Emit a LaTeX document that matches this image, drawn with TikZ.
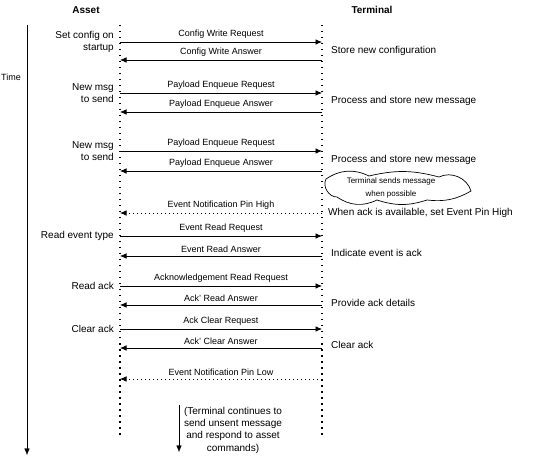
\documentclass[tikz,border=0pt]{standalone}
\usepackage{fontspec}
\setmainfont{Liberation Sans}
\usetikzlibrary{arrows.meta, positioning}
\tikzstyle{head}=[inner sep=0pt, font=\bfseries\fontsize{10}{12}\selectfont]
\tikzstyle{life}=[line width=1.5pt, dash pattern=on 1.5pt off 4.5pt]
\tikzstyle{msg}=[->, line width=0.7pt]
\tikzstyle{sig}=[->, line width=0.7pt, dash pattern=on 1pt off 3pt]
\tikzstyle{lbl}=[above, inner sep=3pt, font=\fontsize{9}{11}\selectfont]
\tikzstyle{note}=[inner sep=0pt, align=right, font=\fontsize{10}{12.5}\selectfont]
\tikzstyle{puff}=[line width=0.7pt]

\begin{document}
\begin{tikzpicture}[x=1pt,y=-1pt,>={Latex[length=6.5pt,width=5.5pt]}]
  \useasboundingbox (0,0) rectangle (533,462);
  % headers
  \node [head] (asset) at (86,10) {Asset};
  \node [head] (term) at (372,10) {Terminal};
  % time axis
  \coordinate (t0) at (27,25);
  \coordinate (t9) at (27,455);
  \draw[->] (t0) -- (t9);
  \node [note, font=\fontsize{9}{11}\selectfont] (time) at (11,77) {Time};
  % lifelines
  \coordinate (atop) at (120,25);
  \coordinate (abot) at (120,438);
  \coordinate (ttop) at (322,25);
  \coordinate (tbot) at (322,438);
  \draw[life] (atop) -- (abot);
  \draw[life] (ttop) -- (tbot);
  % message ends
  \foreach \n/\y in {1/42,2/60,3/93,4/112,5/151,6/171,7/213,8/236,9/256,10/286,11/305,12/329,13/348,14/379}{
    \coordinate (a\n) at (120,\y);
    \coordinate (b\n) at (322,\y);
  }
  % messages
  \draw[msg] (a1) -- node[lbl] {Config Write Request} (b1);
  \draw[msg] (b2) -- node[lbl] {Config Write Answer} (a2);
  \draw[msg] (a3) -- node[lbl] {Payload Enqueue Request} (b3);
  \draw[msg] (b4) -- node[lbl] {Payload Enqueue Answer} (a4);
  \draw[msg] (a5) -- node[lbl] {Payload Enqueue Request} (b5);
  \draw[msg] (b6) -- node[lbl] {Payload Enqueue Answer} (a6);
  \draw[sig] (b7) -- node[lbl] {Event Notification Pin High} (a7);
  \draw[msg] (a8) -- node[lbl] {Event Read Request} (b8);
  \draw[msg] (b9) -- node[lbl] {Event Read Answer} (a9);
  \draw[msg] (a10) -- node[lbl] {Acknowledgement Read Request} (b10);
  \draw[msg] (b11) -- node[lbl] {Ack' Read Answer} (a11);
  \draw[msg] (a12) -- node[lbl] {Ack Clear Request} (b12);
  \draw[msg] (b13) -- node[lbl] {Ack' Clear Answer} (a13);
  \draw[sig] (b14) -- node[lbl] {Event Notification Pin Low} (a14);
  % asset side
  \node [note, left=6pt of a1] (n1) {Set config on\\startup};
  \node [note, left=6pt of a3] (n3) {New msg\\to send};
  \node [note, left=6pt of a5] (n5) {New msg\\to send};
  \node [note, left=6pt of a8] (n8) {Read event type};
  \node [note, left=6pt of a10] (n10) {Read ack};
  \node [note, left=6pt of a12] (n12) {Clear ack};
  % terminal side
  \node [note, anchor=west] (m1) at (331,51) {Store new configuration};
  \node [note, anchor=west] (m3) at (331,101) {Process and store new message};
  \node [note, anchor=west] (m5) at (331,160) {Process and store new message};
  % cloud
  \draw[puff, shift={(397,188)}] (-71,-9) to[bend left=30] (-28,-12) to[bend left=14] (42,-11)
       to[bend left=50] (74,3) to[bend left=18] (30,12) to[bend left=18] (-20,12)
       to[bend left=30] (-60,9) to[bend left=60] (-71,-9);
  \node [note, align=center, font=\fontsize{8}{12.5}\selectfont] (cloudtxt) at (391,188)
         {Terminal sends message\\when possible};
  \node [note, anchor=west] (m7) at (328,213) {When ack is available, set Event Pin High};
  \node [note, anchor=west] (m9) at (331,253) {Indicate event is ack};
  \node [note, anchor=west] (m11) at (331,303) {Provide ack details};
  \node [note, anchor=west] (m13) at (331,345) {Clear ack};
  % after the last message
  \coordinate (c0) at (179,405);
  \coordinate (c1) at (179,452);
  \draw[->] (c0) -- (c1);
  \node [note, align=center, font=\fontsize{10}{12.3}\selectfont] (rest) at (233,430)
        {(Terminal continues to\\send unsent message\\and respond to asset\\commands)};
\end{tikzpicture}
\end{document}
